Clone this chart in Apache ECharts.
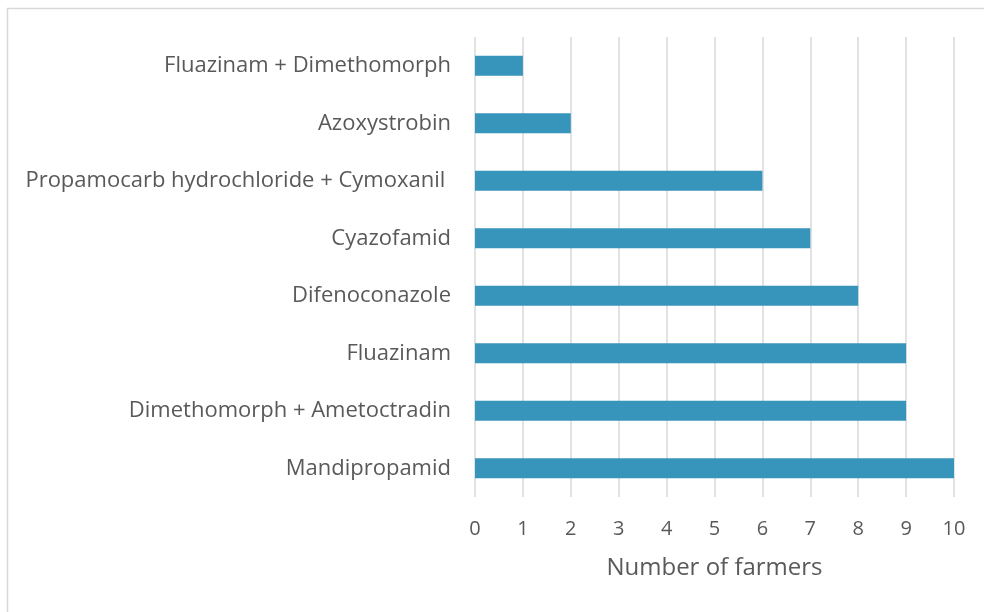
<!DOCTYPE html>
<html><head><meta charset="utf-8">
<script src="https://cdn.jsdelivr.net/npm/echarts@6/dist/echarts.min.js"></script>
<style>html,body{margin:0;padding:0;background:#fff}#c{width:984px;height:612px}</style>
</head><body><div id="c"></div>
<script>
const categories = ["Fluazinam + Dimethomorph","Azoxystrobin","Propamocarb hydrochloride + Cymoxanil ","Cyazofamid","Difenoconazole","Fluazinam","Dimethomorph + Ametoctradin","Mandipropamid"];
const values = [1,2,6,7,8,9,9,10];
const xTicks = {min:0,max:10,interval:1};
const xTitle = "Number of farmers";

const chart = echarts.init(document.getElementById('c'));
chart.setOption({
  animation:false,
  graphic:[{type:'rect',shape:{x:7.5,y:8.5,width:990,height:620},style:{fill:'none',stroke:'#d9d9d9',lineWidth:1.5},silent:true}],
  grid:{left:475,right:30,top:37,height:460},
  xAxis:{type:'value',min:xTicks.min,max:xTicks.max,interval:xTicks.interval,
    name:xTitle,nameLocation:'middle',nameGap:59,
    nameTextStyle:{color:'#595959',fontSize:24,fontFamily:'Open Sans'},
    axisLine:{show:false},axisTick:{show:false},
    axisLabel:{color:'#595959',fontSize:20,fontFamily:'Open Sans',margin:22},
    splitLine:{lineStyle:{color:'#d9d9d9',width:1.5}}},
  yAxis:{type:'category',data:categories,inverse:true,
    axisLine:{show:false},axisTick:{show:false},
    axisLabel:{color:'#595959',fontSize:22,fontFamily:'Open Sans',margin:24}},
  series:[{type:'bar',data:values,barWidth:'35%',
    itemStyle:{color:'#3795bb'}}]
});
</script></body></html>
